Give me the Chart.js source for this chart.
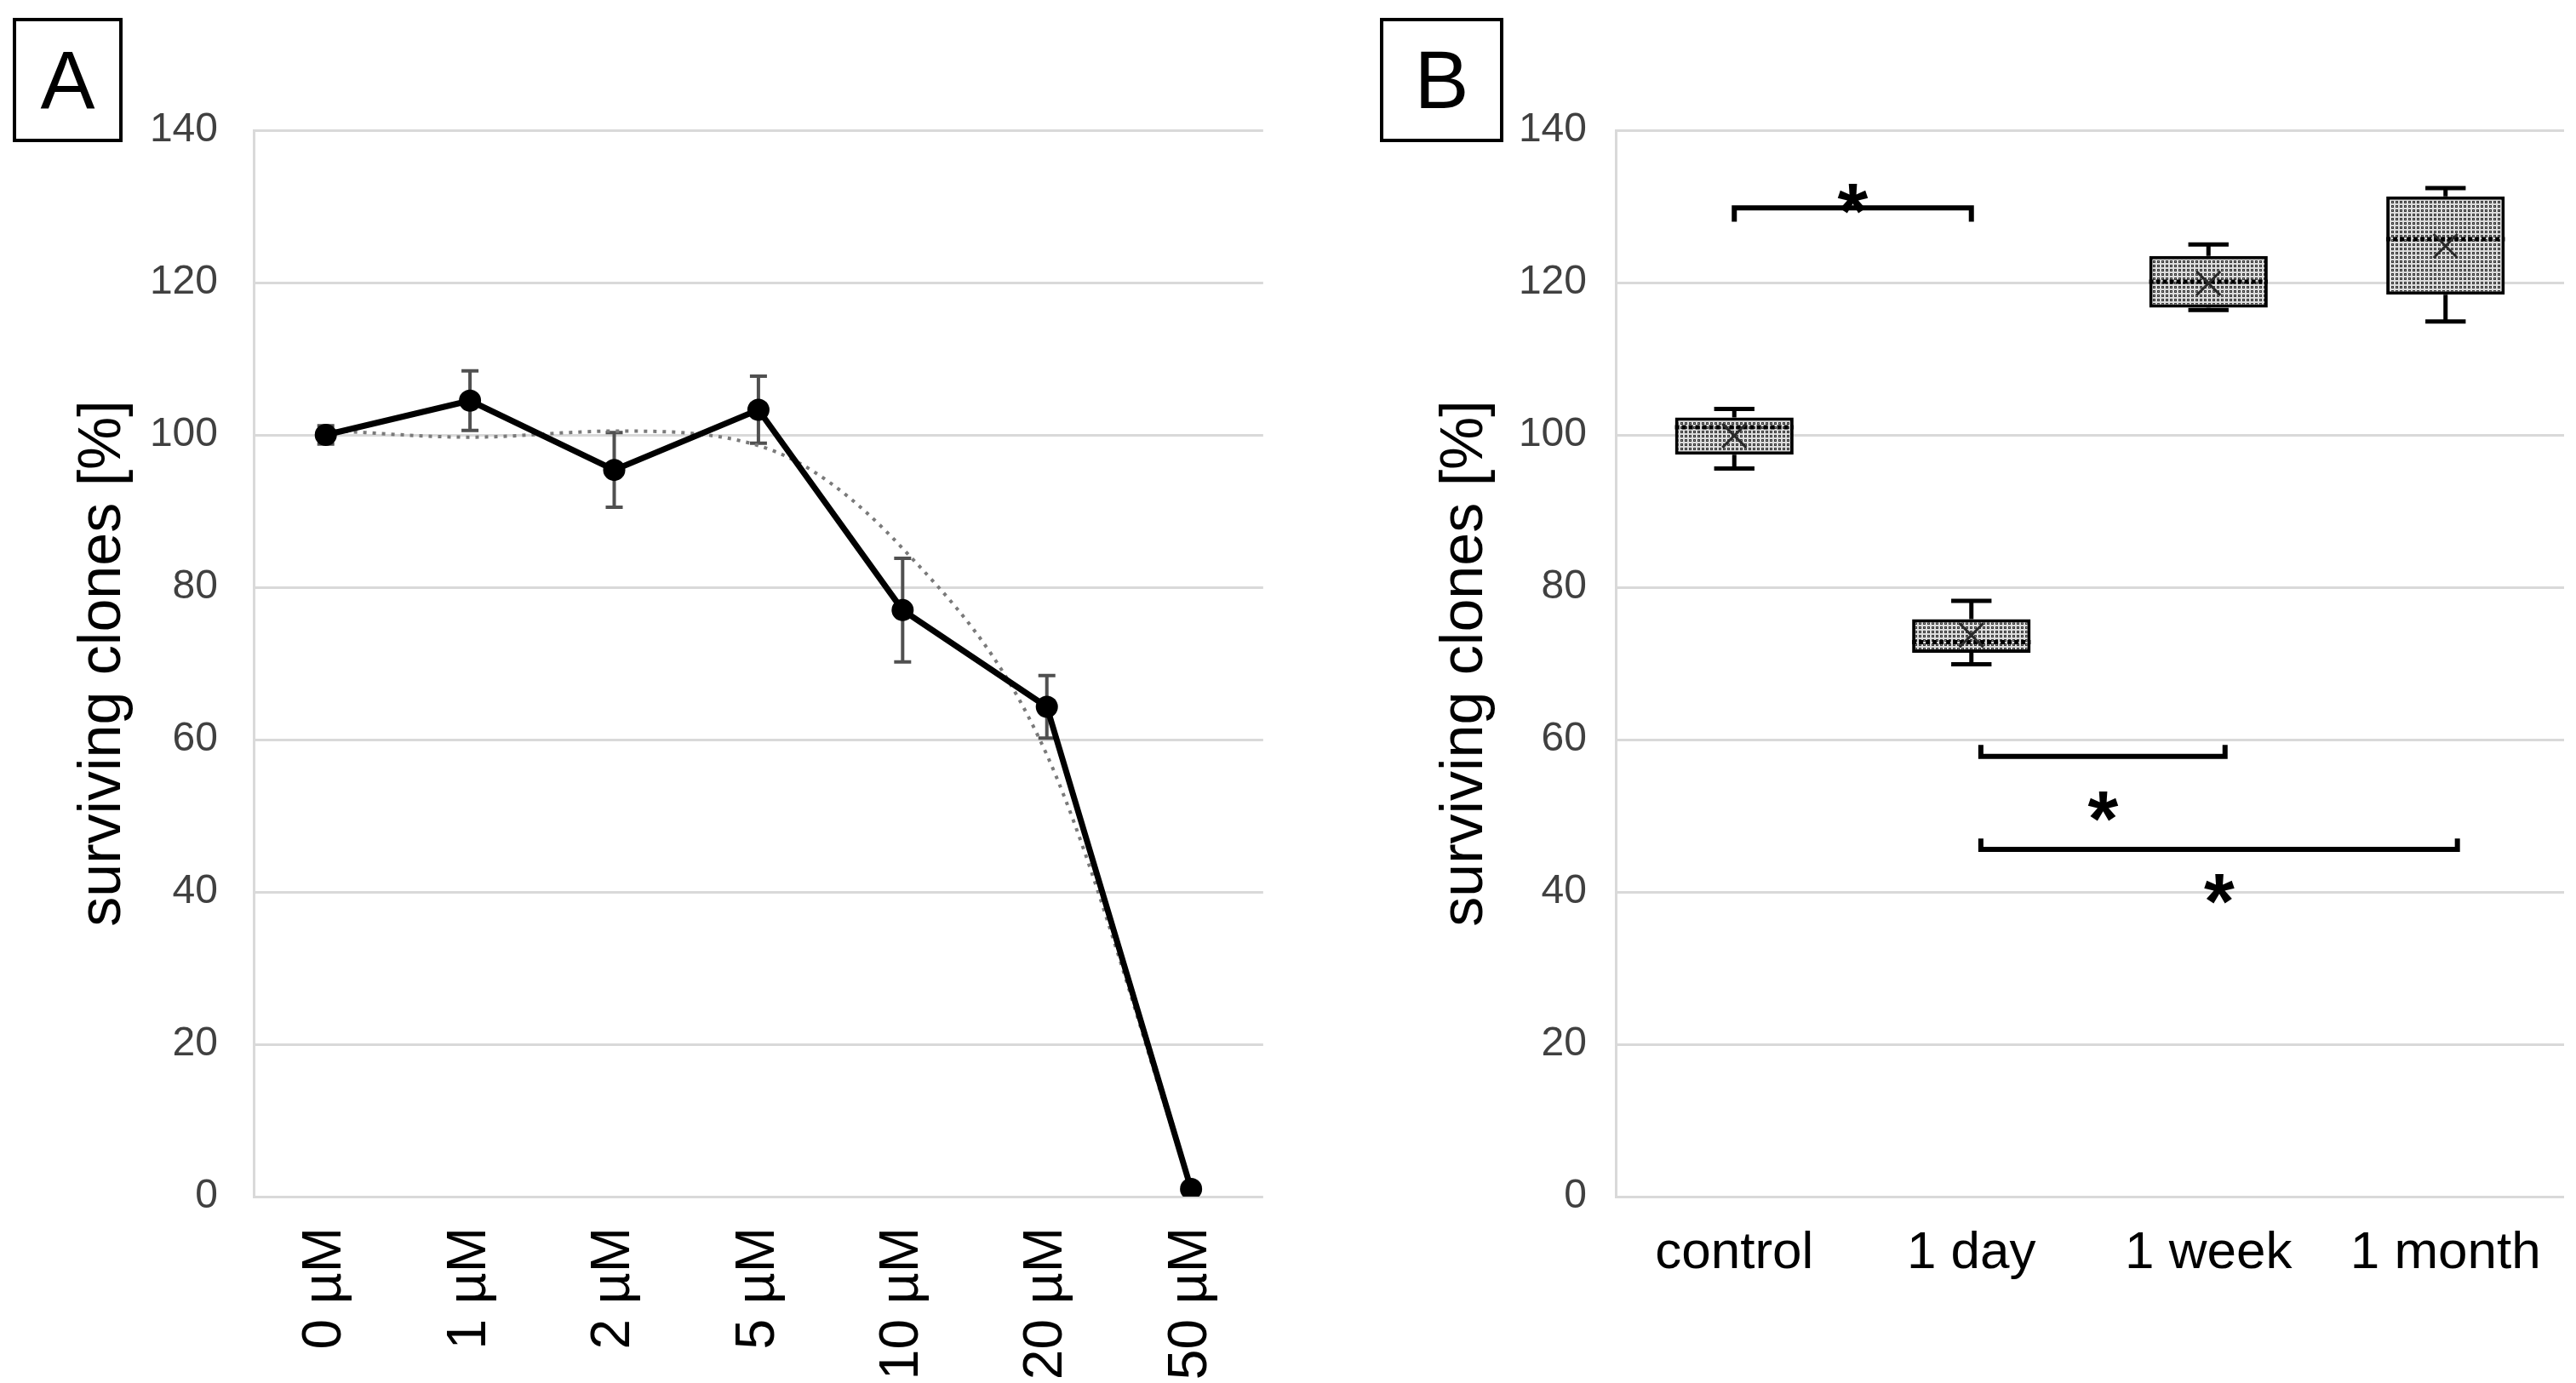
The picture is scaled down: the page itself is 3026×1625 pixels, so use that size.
<!DOCTYPE html>
<html lang="en">
<head>
<meta charset="UTF-8">
<title>Surviving clones</title>
<script src="https://cdn.jsdelivr.net/npm/chart.js"></script>
<style>
  html, body { margin: 0; padding: 0; background: #fff; }
  body { width: 3026px; height: 1625px; position: relative; overflow: hidden; font-family: 'Liberation Sans', Arial, sans-serif; }
  .panel { position: absolute; top: 0; width: 1513px; height: 1625px; }
  .tag { position: absolute; top: 21px; height: 138px; border: 4px solid #000; font-size: 96px; line-height: 138px; text-align: center; color: #000; }
</style>
</head>
<body>
<div class="panel" style="left:0"><canvas id="chartA"></canvas></div>
<div class="panel" style="left:1513px"><canvas id="chartB"></canvas></div>
<div class="tag" style="left:15px; width:121px">A</div>
<div class="tag" style="left:1621px; width:137px">B</div>

<script>
// Panel A: dose response
const doseLabels = ['0 µM', '1 µM', '2 µM', '5 µM', '10 µM', '20 µM', '50 µM'];
const survivalMean = [100, 104.5, 95.4, 103.3, 77.0, 64.3, 1.0];
const survivalErr = [1.2, 3.9, 4.9, 4.4, 6.8, 4.1, 0];
const trendValues = [100.6, 99.7, 100.5, 98.6, 85.1, 58.0, 1.2];

// Panel B: box plots
const groupLabels = ['control', '1 day', '1 week', '1 month'];
const boxMin = [95.6, 69.9, 116.4, 114.9];
const boxQ1 = [97.4, 71.4, 116.7, 118.4];
const boxMedian = [101.0, 72.8, 120.1, 125.7];
const boxQ3 = [102.3, 75.8, 123.5, 131.3];
const boxMax = [103.4, 78.2, 125.0, 132.4];
const boxMean = [99.9, 73.7, 119.9, 124.8];

// significance brackets (category index from/to, bar level, tick end, star level)
const bracketFrom = [0, 1.04, 1.04];
const bracketTo = [1, 2.07, 3.05];
const bracketLevel = [129.8, 57.8, 45.6];
const bracketTip = [128.0, 59.3, 47.0];
const starLevel = [131.0, 51.2, 40.4];

const FONT = "'Liberation Sans', Arial, sans-serif";

function yAxis(tickPad) {
    return {
        min: 0,
        max: 140,
        ticks: { stepSize: 20, padding: tickPad, color: '#404040', font: { family: FONT, size: 48 } },
        grid: { color: '#d9d9d9', lineWidth: 3, drawTicks: false },
        border: { display: true, color: '#d9d9d9', width: 3 },
        title: {
            display: true,
            text: 'surviving clones [%]',
            color: '#000',
            font: { family: FONT, size: 70 },
            padding: { top: 80, bottom: 0 }
        },
        afterFit: s => { s.width = 298; }
    };
}

function xAxis(fontSize, rotation, tickPad) {
    return {
        offset: true,
        grid: { display: false, drawTicks: false },
        border: { display: false },
        ticks: {
            autoSkip: false,
            minRotation: rotation,
            maxRotation: rotation,
            padding: tickPad,
            color: '#000',
            font: { family: FONT, size: fontSize }
        },
        afterFit: s => { s.height = 219; }
    };
}

// Error bars under the mean line
const errorBars = {
    id: 'errorBars',
    beforeDatasetsDraw(chart) {
        const ctx = chart.ctx;
        const y = chart.scales.y;
        const meta = chart.getDatasetMeta(0);
        ctx.save();
        ctx.strokeStyle = '#505050';
        ctx.lineWidth = 4;
        meta.data.forEach((pt, i) => {
            const e = survivalErr[i];
            if (!e) return;
            const top = y.getPixelForValue(survivalMean[i] + e);
            const bot = y.getPixelForValue(survivalMean[i] - e);
            ctx.beginPath();
            ctx.moveTo(pt.x, top); ctx.lineTo(pt.x, bot);
            ctx.moveTo(pt.x - 10, top); ctx.lineTo(pt.x + 10, top);
            ctx.moveTo(pt.x - 10, bot); ctx.lineTo(pt.x + 10, bot);
            ctx.stroke();
        });
        ctx.restore();
    }
};

new Chart(document.getElementById('chartA'), {
    type: 'line',
    data: {
        labels: doseLabels,
        datasets: [{
            label: 'surviving clones',
            data: survivalMean,
            borderColor: '#000',
            borderWidth: 7,
            pointRadius: 13,
            pointBackgroundColor: '#000',
            pointBorderWidth: 0,
            tension: 0
        }, {
            label: 'trend',
            data: trendValues,
            borderColor: '#7a7a7a',
            borderWidth: 4,
            borderDash: [4, 7],
            pointRadius: 0,
            cubicInterpolationMode: 'monotone'
        }]
    },
    options: {
        responsive: true,
        maintainAspectRatio: false,
        animation: false,
        layout: { padding: { top: 153, left: 0, right: 15, bottom: 0 } },
        plugins: { legend: { display: false }, tooltip: { enabled: false } },
        scales: { x: xAxis(64, 90, 36), y: yAxis(42) }
    },
    plugins: [errorBars]
});

// Stipple fill for the boxes
const ctxB = document.getElementById('chartB').getContext('2d');
function dotPattern() {
    const c = document.createElement('canvas');
    c.width = 5; c.height = 5;
    const g = c.getContext('2d');
    g.fillStyle = '#dcdcdc'; g.fillRect(0, 0, 5, 5);
    g.fillStyle = '#3a3a3a'; g.fillRect(1, 1, 3, 3);
    g.fillStyle = '#9a9a9a'; g.fillRect(2, 2, 1, 1);
    return ctxB.createPattern(c, 'repeat');
}

const boxExtras = {
    id: 'boxExtras',
    beforeDatasetsDraw(chart) {
        const ctx = chart.ctx;
        const y = chart.scales.y;
        const meta = chart.getDatasetMeta(0);
        ctx.save();
        ctx.strokeStyle = '#000';
        ctx.lineWidth = 5;
        meta.data.forEach((bar, i) => {
            const cap = bar.width * 0.17;
            const hi = y.getPixelForValue(boxMax[i]);
            const lo = y.getPixelForValue(boxMin[i]);
            ctx.beginPath();
            ctx.moveTo(bar.x, hi); ctx.lineTo(bar.x, y.getPixelForValue(boxQ3[i]));
            ctx.moveTo(bar.x, lo); ctx.lineTo(bar.x, y.getPixelForValue(boxQ1[i]));
            ctx.moveTo(bar.x - cap, hi); ctx.lineTo(bar.x + cap, hi);
            ctx.moveTo(bar.x - cap, lo); ctx.lineTo(bar.x + cap, lo);
            ctx.stroke();
        });
        ctx.restore();
    },
    afterDatasetsDraw(chart) {
        const ctx = chart.ctx;
        const y = chart.scales.y;
        const meta = chart.getDatasetMeta(0);
        ctx.save();
        meta.data.forEach((bar, i) => {
            const half = bar.width / 2;
            const med = y.getPixelForValue(boxMedian[i]);
            ctx.strokeStyle = '#000';
            ctx.lineWidth = 5;
            ctx.setLineDash([5, 3]);
            ctx.beginPath();
            ctx.moveTo(bar.x - half, med); ctx.lineTo(bar.x + half, med);
            ctx.stroke();
            ctx.setLineDash([]);
            const m = y.getPixelForValue(boxMean[i]);
            const r = 14;
            ctx.strokeStyle = '#2a2a2a';
            ctx.lineWidth = 3;
            ctx.beginPath();
            ctx.moveTo(bar.x - r, m - r); ctx.lineTo(bar.x + r, m + r);
            ctx.moveTo(bar.x + r, m - r); ctx.lineTo(bar.x - r, m + r);
            ctx.stroke();
        });
        ctx.restore();
    }
};

const brackets = {
    id: 'brackets',
    afterDraw(chart) {
        const ctx = chart.ctx;
        const x = chart.scales.x;
        const y = chart.scales.y;
        ctx.save();
        ctx.strokeStyle = '#000';
        ctx.fillStyle = '#000';
        ctx.lineWidth = 6;
        ctx.lineJoin = 'miter';
        ctx.font = 'bold 92px ' + FONT;
        ctx.textAlign = 'center';
        ctx.textBaseline = 'alphabetic';
        bracketLevel.forEach((lev, i) => {
            const x1 = x.getPixelForValue(bracketFrom[i]);
            const x2 = x.getPixelForValue(bracketTo[i]);
            const yl = y.getPixelForValue(lev);
            const yt = y.getPixelForValue(bracketTip[i]);
            ctx.beginPath();
            ctx.moveTo(x1, yt); ctx.lineTo(x1, yl); ctx.lineTo(x2, yl); ctx.lineTo(x2, yt);
            ctx.stroke();
            const m = ctx.measureText('*');
            const yc = y.getPixelForValue(starLevel[i]);
            const base = yc + (m.actualBoundingBoxAscent - m.actualBoundingBoxDescent) / 2;
            ctx.fillText('*', (x1 + x2) / 2, base);
        });
        ctx.restore();
    }
};

new Chart(ctxB, {
    type: 'bar',
    data: {
        labels: groupLabels,
        datasets: [{
            label: 'surviving clones',
            data: groupLabels.map((_, i) => [boxQ1[i], boxQ3[i]]),
            backgroundColor: dotPattern(),
            borderColor: '#000',
            borderWidth: 4,
            borderSkipped: false,
            barPercentage: 0.5,
            categoryPercentage: 1
        }]
    },
    options: {
        responsive: true,
        maintainAspectRatio: false,
        animation: false,
        layout: { padding: { top: 153, left: 87, right: 14, bottom: 0 } },
        plugins: { legend: { display: false }, tooltip: { enabled: false } },
        scales: { x: xAxis(62, 0, 30), y: yAxis(34) }
    },
    plugins: [boxExtras, brackets]
});
</script>
</body>
</html>
